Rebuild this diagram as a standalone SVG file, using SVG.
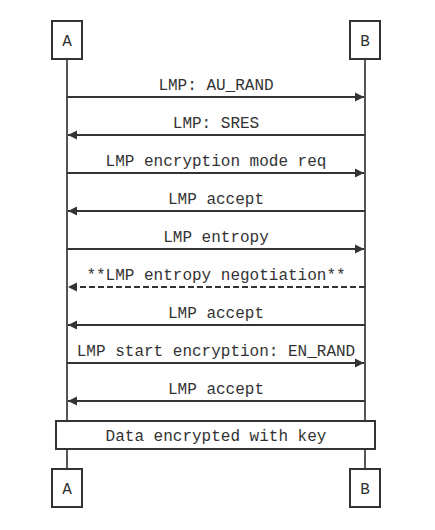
<svg xmlns="http://www.w3.org/2000/svg" width="435" height="530" viewBox="0 0 435 530">
<style>
text{font-family:"Liberation Mono","DejaVu Sans Mono",monospace;font-size:16px;fill:#333;text-anchor:middle}
.box{fill:#fff;stroke:#333;stroke-width:2}
.life{stroke:#555;stroke-width:2;fill:none}
.msg{stroke:#333;stroke-width:2;fill:none}
.dash{stroke-dasharray:6,3}
</style>
<defs>
<marker id="ah" viewBox="0 0 10 10" refX="10" refY="5" markerWidth="9" markerHeight="10" markerUnits="userSpaceOnUse" orient="auto">
<path d="M0,0 L10,5 L0,10 z" fill="#333"/>
</marker>
</defs>
<g id="lifelines">
<line class="life" x1="67" y1="59" x2="67" y2="469"/>
<line class="life" x1="365" y1="59" x2="365" y2="469"/>
</g>
<g id="A-top"><rect class="box" x="52" y="21" width="30" height="38"/><text x="67" y="46">A</text></g>
<g id="B-top"><rect class="box" x="350" y="21" width="30" height="38"/><text x="365" y="46">B</text></g>
<g id="connectors">
<line class="msg" x1="67" y1="97" x2="364" y2="97" marker-end="url(#ah)"/>
<text x="216" y="90">LMP: AU_RAND</text>
<line class="msg" x1="365" y1="135" x2="68" y2="135" marker-end="url(#ah)"/>
<text x="216" y="128">LMP: SRES</text>
<line class="msg" x1="67" y1="173" x2="364" y2="173" marker-end="url(#ah)"/>
<text x="216" y="166">LMP encryption mode req</text>
<line class="msg" x1="365" y1="211" x2="68" y2="211" marker-end="url(#ah)"/>
<text x="216" y="204">LMP accept</text>
<line class="msg" x1="67" y1="249" x2="364" y2="249" marker-end="url(#ah)"/>
<text x="216" y="242">LMP entropy</text>
<line class="msg dash" x1="365" y1="287" x2="68" y2="287" marker-end="url(#ah)"/>
<text x="216" y="280">**LMP entropy negotiation**</text>
<line class="msg" x1="365" y1="325" x2="68" y2="325" marker-end="url(#ah)"/>
<text x="216" y="318">LMP accept</text>
<line class="msg" x1="67" y1="363" x2="364" y2="363" marker-end="url(#ah)"/>
<text x="216" y="356">LMP start encryption: EN_RAND</text>
<line class="msg" x1="365" y1="401" x2="68" y2="401" marker-end="url(#ah)"/>
<text x="216" y="394">LMP accept</text>
</g>
<g id="note"><rect class="box" x="56" y="421" width="319" height="28"/><text x="216" y="441">Data encrypted with key</text></g>
<g id="A-bottom"><rect class="box" x="52" y="469" width="30" height="38"/><text x="67" y="494">A</text></g>
<g id="B-bottom"><rect class="box" x="350" y="469" width="30" height="38"/><text x="365" y="494">B</text></g>
</svg>
